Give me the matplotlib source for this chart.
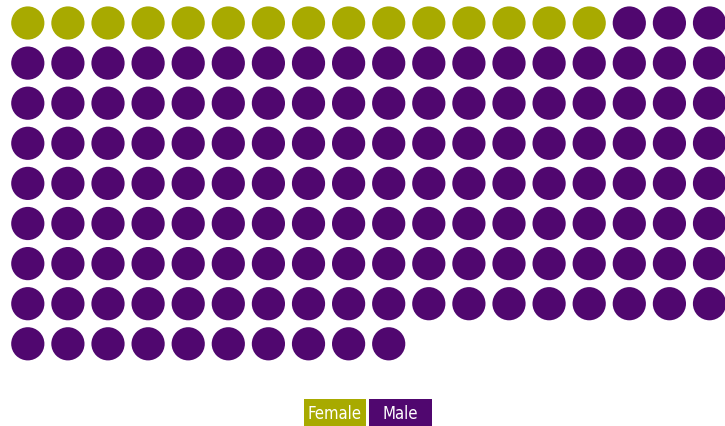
import matplotlib
matplotlib.use("Agg")
import matplotlib.pyplot as plt
from matplotlib.patches import Circle, Rectangle
from matplotlib import font_manager

# ── data ────────────────────────────────────────────────────────────────────
categories = ["Female", "Male"]
counts = [15, 139]
colors = ["#a8aa00", "#50076f"]
N_COLS = 18

# ── layout (pixel space) ────────────────────────────────────────────────────
W, H = 725, 427
X0, Y0 = 27.8, 24.0
STEP = 40.1
R = 16.6

fig = plt.figure(figsize=(W / 100, H / 100), dpi=100)
ax = fig.add_axes([0, 0, 1, 1])
ax.set_xlim(0, W)
ax.set_ylim(H, 0)
ax.axis("off")

idx = 0
for cat, n, col in zip(categories, counts, colors):
    for _ in range(n):
        r, c = divmod(idx, N_COLS)
        ax.add_patch(Circle((X0 + c * STEP, Y0 + r * STEP), R,
                            facecolor=col, edgecolor="none"))
        idx += 1

# legend boxes
names = {f.name for f in font_manager.fontManager.ttflist}
fam = "Liberation Sans Narrow" if "Liberation Sans Narrow" in names else "DejaVu Sans"

boxes = [(304, 62), (369, 63)]
for (bx, bw), cat, col in zip(boxes, categories, colors):
    ax.add_patch(Rectangle((bx, 400), bw, 27, facecolor=col, edgecolor="none"))
    ax.text(bx + bw / 2, 414, cat, color="white", fontsize=12, family=fam,
            fontstretch="condensed", ha="center", va="center")

fig.savefig("out.png", dpi=100)
